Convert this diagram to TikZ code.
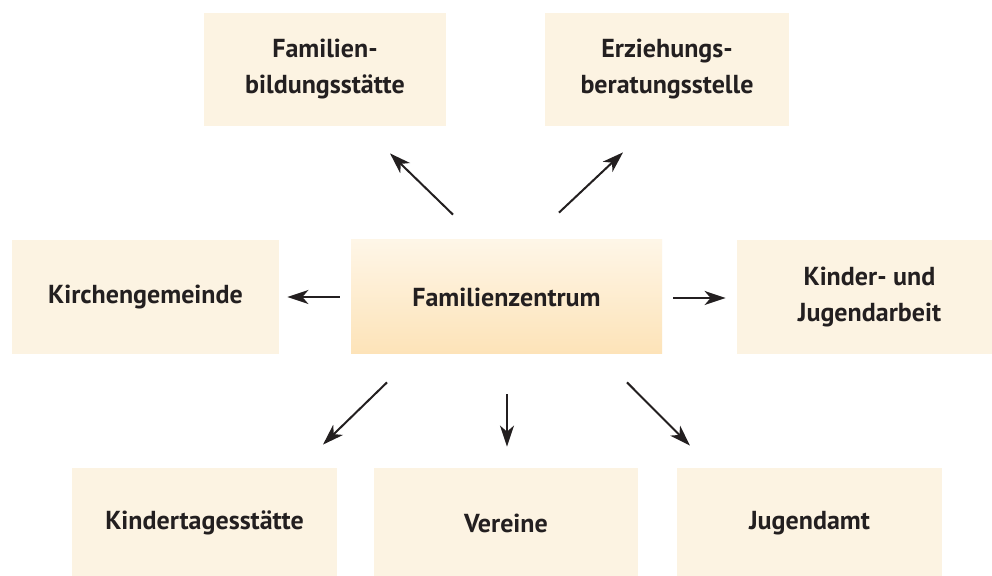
\documentclass[tikz,border=0pt]{standalone}
\usepackage{fontspec}
\setmainfont{PT Sans}
\usetikzlibrary{arrows.meta,calc,backgrounds}
\definecolor{boxfill}{HTML}{FCF3E2}
\definecolor{ctop}{HTML}{FEF6E7}
\definecolor{cbot}{HTML}{FDE3B8}
\definecolor{txt}{HTML}{231F20}
\definecolor{shadowc}{HTML}{7D8595}
\tikzset{
  box/.style={rectangle, fill=boxfill, inner sep=0pt, align=center, text=txt,
    font=\fontsize{13}{18}\selectfont\bfseries},
  centerbox/.style={box, fill=none, top color=ctop, bottom color=cbot},
  arr/.style={draw=txt, line width=1pt, -{Stealth[length=10.5pt,width=7pt,inset=3pt]}},
}
\newcommand{\boxshadow}[1]{%
  \begin{pgfonlayer}{background}
  \foreach \d in {0,1,2,3}{
    \fill[shadowc, opacity=0.08] ($(#1.north west)+(4-\d,4-\d)$) rectangle ($(#1.south east)+(2+\d,2+\d)$);
  }
  \end{pgfonlayer}}
\begin{document}
\begin{tikzpicture}[x=0.5pt,y=-0.5pt]
\useasboundingbox[fill=white] (0,0) rectangle (992,576);
% nodes
\node[box, minimum width=121pt, minimum height=56.5pt] (tl) at (325,69.5) {Familien-\\bildungsstätte};
\node[box, minimum width=122pt, minimum height=56.5pt] (tr) at (667,69.5) {Erziehungs-\\beratungsstelle};
\node[box, minimum width=133.5pt, minimum height=57pt] (kg) at (145.5,297) {Kirchengemeinde};
\node[centerbox, minimum width=155.5pt, minimum height=57pt] (c) at (506.5,297) {Familienzentrum};
\node[box, minimum width=132.5pt, minimum height=57pt] (kj) at (869.5,297) {Kinder- und\\Jugendarbeit};
\node[box, minimum width=132.5pt, minimum height=55pt] (kita) at (204.5,523) {Kindertagesstätte};
\node[box, minimum width=132pt, minimum height=55pt] (ver) at (506,523) {Vereine};
\node[box, minimum width=132.5pt, minimum height=55pt] (ja) at (809.5,523) {Jugendamt};
\boxshadow{tl}\boxshadow{tr}\boxshadow{kg}\boxshadow{c}\boxshadow{kj}
\boxshadow{kita}\boxshadow{ver}\boxshadow{ja}
% connectors
\draw[arr] ($(c.north)+(-53.5,-25)$) -- ($(tl.south)+(65,27)$);
\draw[arr] ($(c.north)+(52.5,-27)$) -- ($(tr.south)+(-44,26)$);
\draw[arr] ($(c.west)+(-11,0)$) -- ($(kg.east)+(8,0)$);
\draw[arr] ($(c.east)+(11,1)$) -- ($(kj.west)+(-11,1)$);
\draw[arr] ($(c.south)+(-119.5,28)$) -- ($(kita.north)+(118.5,-23)$);
\draw[arr] ($(c.south)+(0.5,40)$) -- ($(ver.north)+(1,-21)$);
\draw[arr] ($(c.south)+(120.5,28)$) -- ($(ja.north)+(-119.5,-22)$);
\end{tikzpicture}
\end{document}
